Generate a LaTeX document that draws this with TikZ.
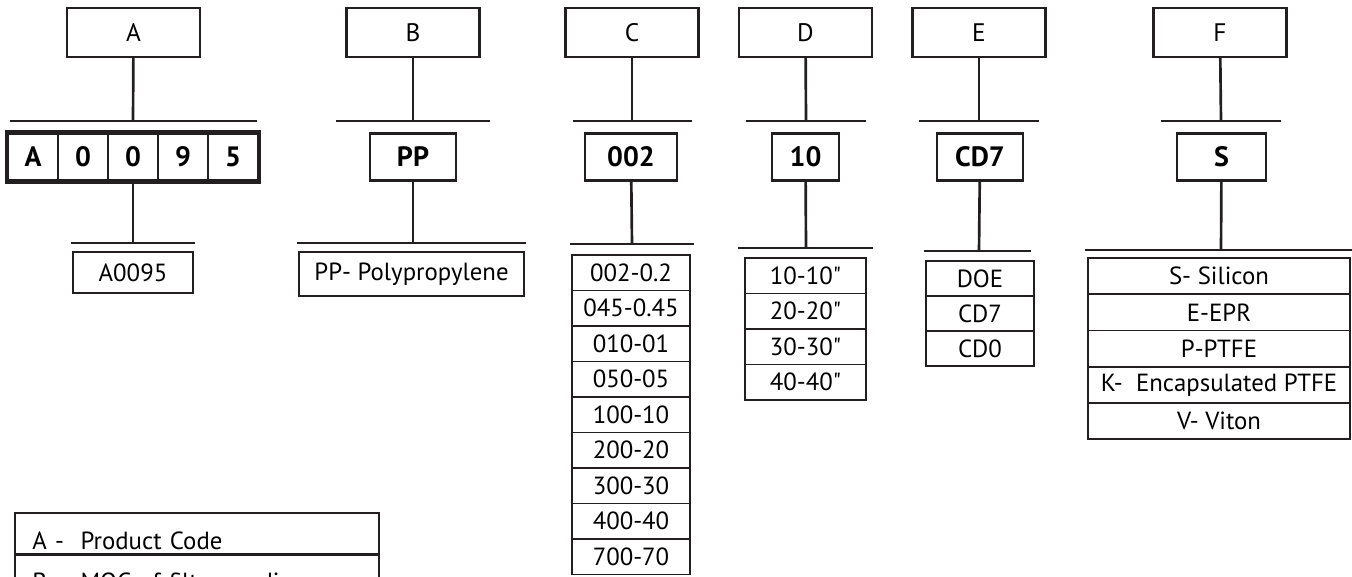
\documentclass[tikz,border=0pt]{standalone}
\usepackage{fontspec}
\setmainfont{PT Sans}[Ligatures=TeXOff]
\usepackage{tikz}
\usetikzlibrary{positioning}
\definecolor{ink}{HTML}{231F20}

\begin{document}
\begin{tikzpicture}[
    x=0.75pt, y=-0.75pt,
    headbox/.style={rectangle, draw=ink, line width=1.6pt, minimum width=99.75pt, minimum height=36.75pt, inner sep=0pt, text height=13pt, text depth=0pt, font=\fontsize{19}{21}\selectfont},
    codebox/.style={rectangle, draw=ink, line width=1.6pt, minimum height=35.25pt, inner sep=0pt, font=\fontsize{21}{23}\selectfont\bfseries},
    listbox/.style={rectangle, draw=ink, line width=1.4pt, inner sep=0pt, font=\fontsize{18.6}{20}\selectfont},
    legendrow/.style={rectangle, draw=ink, line width=1.6pt, anchor=north west, minimum width=273pt, minimum height=31.1pt, inner xsep=13pt, inner ysep=0pt, text width=247pt, align=left, text height=23.25pt, text depth=0pt, font=\fontsize{18.6}{20}\selectfont},
    bar/.style={draw=ink, line width=2.2pt},
    stem/.style={draw=ink, line width=2pt}
]
    % Page frame (bottom of legend is cut off)
    \useasboundingbox (0,0) rectangle (1352,576);
    \clip (0,0) rectangle (1352,576);

    % Heading boxes
    \node[headbox] (hA) at (133.5, 32.5) {A};
    \node[headbox] (hB) at (413, 32.5) {B};
    \node[headbox] (hC) at (632, 32.5) {C};
    \node[headbox] (hD) at (805.5, 32.5) {D};
    \node[headbox] (hE) at (979, 32.5) {E};
    \node[headbox] (hF) at (1220, 32.5) {F};

    % Upper bars
    \coordinate (aTop) at (133, 121);
    \coordinate (bTop) at (413, 121);
    \coordinate (cTop) at (632, 121);
    \coordinate (dTop) at (806, 121);
    \coordinate (eTop) at (979, 121);
    \coordinate (fTop) at (1221, 121);
    \draw[bar] (10,121) -- (257,121);
    \draw[bar] (336,121) -- (490,121);
    \draw[bar] (573,121) -- (692,121);
    \draw[bar] (746,121) -- (866,121);
    \draw[bar] (919,121) -- (1039,121);
    \draw[bar] (1161,121) -- (1281,121);
    \draw[stem] (hA) -- (aTop);
    \draw[stem] (hB) -- (bTop);
    \draw[stem] (hC) -- (cTop);
    \draw[stem] (hD) -- (dTop);
    \draw[stem] (hE) -- (eTop);
    \draw[stem] (hF) -- (fTop);

    % Code boxes
    \foreach \ch [count=\i] in {A,0,0,9,5} {
        \node[codebox, minimum width=37.5pt] (a\i) at ({-17+\i*50}, 157) {\ch};
    }
    \draw[ink, line width=3pt] (a1.north west) rectangle (a5.south east);
    \node[codebox, minimum width=64.5pt] (cB) at (413, 157) {PP};
    \node[codebox, minimum width=69pt] (cC) at (631, 157) {002};
    \node[codebox, minimum width=50.25pt] (cD) at (805.5, 157) {10};
    \node[codebox, minimum width=64.5pt] (cE) at (980, 157) {CD7};
    \node[codebox, minimum width=66.75pt] (cF) at (1221.5, 157) {S};

    % Lower bars
    \coordinate (aBot) at (133, 243);
    \coordinate (bBot) at (413, 243);
    \coordinate (cBot) at (632, 244);
    \coordinate (dBot) at (806, 248);
    \coordinate (eBot) at (979, 251);
    \coordinate (fBot) at (1221, 250);
    \draw[bar] (71,243) -- (195,243);
    \draw[bar] (297,243) -- (526,243);
    \draw[bar] (570,244) -- (694,244);
    \draw[bar] (738,248) -- (873,248);
    \draw[bar] (924,251) -- (1031,251);
    \draw[bar] (1085,250) -- (1352,250);
    \draw[stem] (a3) -- (aBot);
    \draw[stem] (cB) -- (bBot);
    \draw[stem] (cC) -- (cBot);
    \draw[stem] (cD) -- (dBot);
    \draw[stem] (cE) -- (eBot);
    \draw[stem] (cF) -- (fBot);

    % Option lists
    \node[listbox, minimum width=90pt, minimum height=30.75pt] (lA) at (133, 272.5) {A0095};
    \node[listbox, minimum width=168.75pt, minimum height=33pt] (lB) at (411.5, 274) {PP- Polypropylene};

    \foreach \t [count=\i] in {002-0.2, 045-0.45, 010-01, 050-05, 100-10, 200-20, 300-30, 400-40, 700-70} {
        \node[listbox, minimum width=88.5pt, minimum height=26.6pt] (lC\i) at (631, {237.25+\i*35.5}) {\t};
    }
    \foreach \t [count=\i] in {10-10", 20-20", 30-30", 40-40"} {
        \node[listbox, minimum width=90.75pt, minimum height=26.6pt] (lD\i) at (805.5, {240.25+\i*35.5}) {\t};
    }
    \foreach \t [count=\i] in {DOE, CD7, CD0} {
        \node[listbox, minimum width=81pt, minimum height=26.25pt] (lE\i) at (980, {243.5+\i*35}) {\t};
    }
    \foreach \t [count=\i] in {S- Silicon, E-EPR, P-PTFE, K-\ \ Encapsulated PTFE, V- Viton} {
        \node[listbox, minimum width=196.5pt, minimum height=27.15pt] (lF\i) at (1219, {240+\i*36.2}) {\t};
    }

    % Legend
    \node[legendrow] (g1) at (14, 512) {A -\ \ Product Code};
    \node[legendrow] (g2) at (14, 553.5) {B - \ MOC of filter media};

\end{tikzpicture}
\end{document}
